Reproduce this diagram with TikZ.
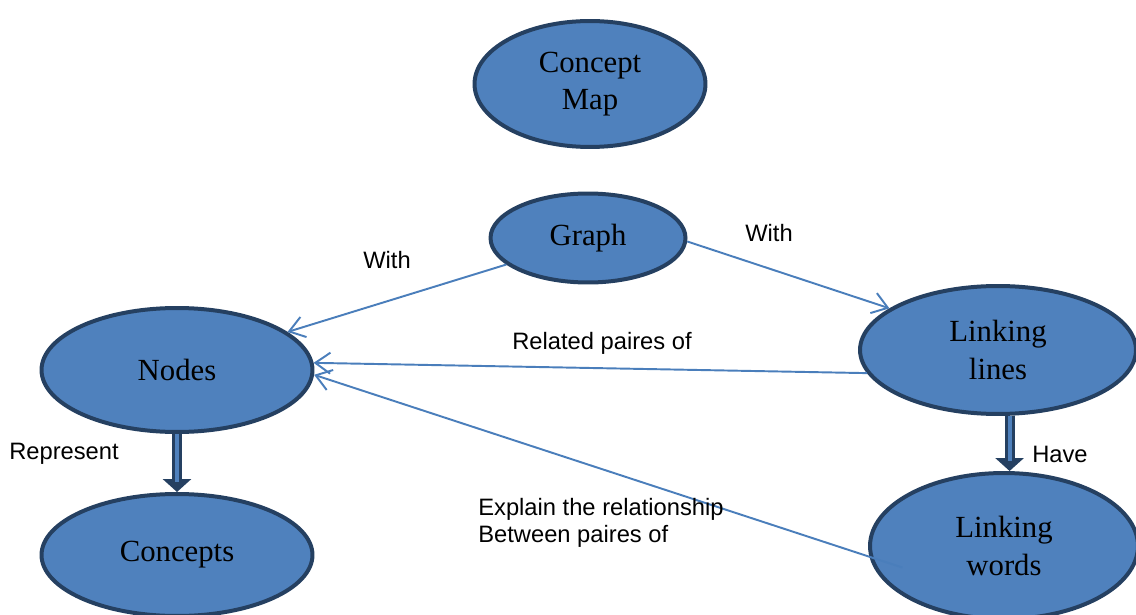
\documentclass[tikz,border=0pt]{standalone}
\usepackage{fontspec}
\setmainfont{Liberation Serif}
\newfontfamily\labelfont{Liberation Sans}
\usetikzlibrary{shapes.geometric,arrows.meta,positioning,calc}
\definecolor{mapfill}{RGB}{79,129,189}
\definecolor{mapedge}{RGB}{37,64,97}
\definecolor{maplink}{RGB}{74,126,187}

\begin{document}
\begin{tikzpicture}[x=0.02cm, y=-0.02cm,
	concept/.style={ellipse, draw=mapedge, fill=mapfill, line width=0.08cm, inner sep=0pt, align=center, font=\fontsize{17.5}{21.5}\selectfont},
	link/.style={draw=maplink, line width=1.1pt, -{Straight Barb[length=0.3cm, width=0.42cm]}},
	linktext/.style={font=\labelfont\fontsize{13.5}{15.3}\selectfont, inner sep=0pt},
	fatarrow/.style={draw=mapedge, line width=0.2cm, -{Triangle[length=0.26cm, width=0.56cm]}},
	fatcore/.style={draw=mapfill, line width=0.08cm}]
		\useasboundingbox (0,0) rectangle (1136,615);
		\clip (0,0) rectangle (1136,615);
		% Concepts
		\node[concept, minimum width=4.62cm, minimum height=2.52cm] (map) at (590,84) {Concept\\Map};
		\node[concept, minimum width=3.9cm, minimum height=1.78cm] (graph) at (588,238) {Graph};
		\node[concept, minimum width=5.42cm, minimum height=2.48cm] (nodes) at (177,370) {Nodes};
		\node[concept, minimum width=5.52cm, minimum height=2.56cm] (lines) at (998,350) {Linking\\lines};
		\node[concept, minimum width=5.42cm, minimum height=2.44cm] (concepts) at (177,555) {Concepts};
		\node[concept, minimum width=5.36cm, minimum height=2.92cm] (words) at (1004,546) {Linking\\words};
		
		% Links
		\draw[link] (graph.198) -- (nodes.19);
		\draw[link] (graph.-2) -- (lines.159);
		\draw[link] (lines.190) -- (nodes.3);
		\draw[link] ($(words.center)!0.8!(words.192)$) -- (nodes.-2);
		
		% Heavy arrows
		\draw[fatarrow] (nodes.south) -- (concepts.north);
		\draw[fatcore, shorten >=0.2cm] (nodes.south) -- (concepts.north);
		\draw[fatarrow] (lines.-80) -- (lines.-80 |- words.north);
		\draw[fatcore, shorten >=0.2cm] (lines.-80) -- (lines.-80 |- words.north);
		
		% Link words
		\node[linktext] (withnodes) at (387,260) {With};
		\node[linktext] (withlines) at (769,233) {With};
		\node[linktext] (related) at (602,343) {Related paires of};
		\node[linktext] (represent) at (64,454) {Represent};
		\node[linktext] (have) at (1060,454) {Have};
		\node[linktext, anchor=west, align=left] (explain) at (478,523) {Explain the relationship\\Between paires of};
		
	\end{tikzpicture}
\end{document}
